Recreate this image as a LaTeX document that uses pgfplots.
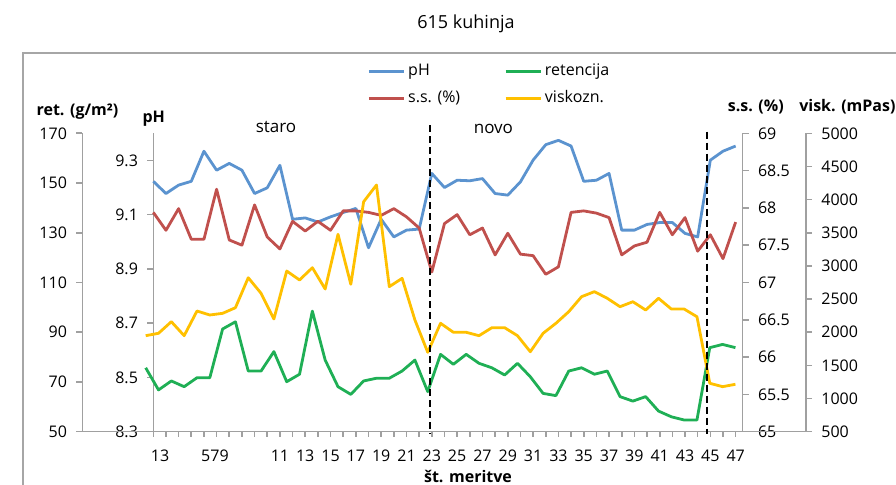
\documentclass[border=0pt]{standalone}
\usepackage{pgfplots}
\pgfplotsset{compat=1.18}
\usepackage{fontspec}
\setmainfont{Open Sans}
\definecolor{cph}{HTML}{5B93CF}
\definecolor{css}{HTML}{C0504D}
\definecolor{cret}{HTML}{1FAF55}
\definecolor{cvis}{HTML}{FFC000}
\definecolor{axgray}{HTML}{A0A0A0}
\definecolor{framegray}{HTML}{A6A6A6}
\newcommand{\tf}{\fontsize{8}{9.6}\selectfont}
\begin{document}
\begin{tikzpicture}
\path[use as bounding box] (0,0) rectangle (448pt,-242.5pt);
\draw[framegray, line width=0.8pt] (11.35pt,-243pt) -- (11.35pt,-26.5pt) -- (449pt,-26.5pt);
\pgfplotsset{
  common/.style={scale only axis, height=149.2pt, anchor=south west,
    axis line style={draw=axgray, line width=0.8pt, -},
    tick style={draw=axgray, line width=0.8pt},
    tick align=outside, major tick length=3pt, minor tick length=2.5pt,
    ticklabel style={font=\tf, text=black},
    yticklabel style={inner sep=0pt},
    yticklabel shift=4.5pt,
    every axis plot/.append style={line width=1.4pt, line join=round, mark=none},
    clip=false},
}
% ---- pH axis ----
\begin{axis}[common, at={(76.65pt,-215.85pt)}, width=294.7pt,
  xmin=1, xmax=47.556, ymin=8.3, ymax=9.4,
  axis x line*=bottom, axis y line*=left,
  xtick={1.53,5.87,11,13,15,17,19,21,23,25,27,29,31,33,35,37,39,41,43,45,47},
  xticklabels={13,579,11,13,15,17,19,21,23,25,27,29,31,33,35,37,39,41,43,45,47},
  major x tick style={draw=none},
  minor xtick={1,...,47},
  xticklabel style={anchor=north, inner sep=0pt, text height=5.8pt, text depth=0pt},
  xticklabel shift=5.8pt,
  ytick={8.3,8.5,8.7,8.9,9.1,9.3},
  yticklabels={8.3,8.5,8.7,8.9,9.1,9.3},
  legend columns=2,
  legend cell align=left,
  legend image code/.code={\draw[#1] (0pt,0pt) -- (17.5pt,0pt);},
  legend style={at={(0.3626,1.2356)}, anchor=north west, draw=none, fill=none,
    inner sep=0pt, font=\tf, row sep=5.7pt,
    nodes={inner sep=0pt, text height=6pt, text depth=1.8pt},
    /tikz/every odd column/.append style={column sep=1.5pt},
    /tikz/every even column/.append style={column sep=22pt}},
]
\addplot[cph] table {
1 9.223
2 9.178
3 9.209
4 9.223
5 9.334
6 9.264
7 9.289
8 9.264
9 9.178
10 9.199
11 9.282
12 9.083
13 9.088
14 9.073
15 9.092
16 9.108
17 9.123
18 8.978
19 9.083
20 9.018
21 9.043
22 9.047
23 9.252
24 9.200
25 9.227
26 9.225
27 9.233
28 9.178
29 9.172
30 9.221
31 9.301
32 9.358
33 9.374
34 9.353
35 9.223
36 9.227
37 9.252
38 9.043
39 9.043
40 9.064
41 9.071
42 9.071
43 9.031
44 9.018
45 9.301
46 9.334
47 9.353
};
\addlegendentry{pH}
\addlegendimage{cret, line width=1.4pt}
\addlegendentry{retencija}
\addlegendimage{css, line width=1.4pt}
\addlegendentry{s.s. (\%)}
\addlegendimage{cvis, line width=1.4pt}
\addlegendentry{viskozn.}
\end{axis}
% ---- s.s. axis ----
\begin{axis}[common, at={(76.65pt,-215.85pt)}, width=294.7pt,
  xmin=1, xmax=47.556, ymin=65, ymax=69,
  axis x line*=bottom, axis y line*=right, xtick=\empty,
  ytick={65,65.5,66,66.5,67,67.5,68,68.5,69},
  yticklabels={65,65.5,66,66.5,67,67.5,68,68.5,69},
  yticklabel style={anchor=west},
]
\addplot[css] table {
1 67.94
2 67.70
3 67.99
4 67.58
5 67.58
6 68.25
7 67.57
8 67.50
9 68.04
10 67.61
11 67.45
12 67.82
13 67.69
14 67.82
15 67.70
16 67.96
17 67.96
18 67.94
19 67.90
20 67.99
21 67.88
22 67.73
23 67.14
24 67.79
25 67.91
26 67.64
27 67.73
28 67.37
29 67.66
30 67.38
31 67.36
32 67.11
33 67.21
34 67.94
35 67.96
36 67.93
37 67.87
38 67.37
39 67.49
40 67.54
41 67.94
42 67.64
43 67.87
44 67.42
45 67.64
46 67.32
47 67.81
};
\end{axis}
% ---- ret. axis ----
\begin{axis}[common, at={(41.15pt,-215.85pt)}, width=330.2pt,
  xmin=-3.9454, xmax=47.568, ymin=50, ymax=170,
  axis x line*=bottom, axis y line*=left, xtick=\empty,
  ytick={50,70,90,110,130,150,170},
  yticklabels={50,70,90,110,130,150,170},
]
\addplot[cret] table {
1 75.7
2 66.8
3 70.4
4 68.1
5 71.7
6 71.7
7 91.3
8 94.2
9 74.4
10 74.4
11 82.2
12 70.1
13 73.1
14 98.5
15 78.8
16 68.1
17 65.0
18 70.4
19 71.5
20 71.5
21 74.4
22 78.8
23 66.1
24 81.1
25 77.1
26 81.1
27 77.5
28 75.7
29 72.8
30 77.5
31 72.1
32 65.4
33 64.5
34 74.4
35 75.7
36 73.1
37 74.4
38 64.1
39 62.3
40 64.1
41 58.3
42 56.0
43 54.7
44 54.7
45 83.8
46 85.1
47 83.8
};
\end{axis}
% ---- visk. axis ----
\begin{axis}[common, at={(41.15pt,-215.85pt)}, width=361.85pt,
  xmin=-3.9454, xmax=52.505, ymin=500, ymax=5000,
  axis x line*=bottom, axis y line*=right, xtick=\empty,
  ytick={500,1000,1500,2000,2500,3000,3500,4000,4500,5000},
  yticklabels={500,1000,1500,2000,2500,3000,3500,4000,4500,5000},
  yticklabel style={anchor=west},
]
\addplot[cvis] table {
1 1948
2 1984
3 2159
4 1948
5 2320
6 2260
7 2285
8 2370
9 2822
10 2587
11 2200
12 2923
13 2788
14 2973
15 2652
16 3477
17 2723
18 3968
19 4220
20 2687
21 2813
22 2184
23 1697
24 2135
25 1999
26 1999
27 1948
28 2068
29 2068
30 1948
31 1706
32 1984
33 2135
34 2310
35 2536
36 2612
37 2512
38 2385
39 2460
40 2335
41 2512
42 2350
43 2350
44 2234
45 1230
46 1179
47 1215
};
\draw[black, line width=1pt, dash pattern=on 3.5pt off 2pt] (axis cs:23.176,5125) -- (axis cs:23.176,465);
\draw[black, line width=1pt, dash pattern=on 3.5pt off 2pt] (axis cs:44.806,5024) -- (axis cs:44.806,465);
\end{axis}
% ---- texts ----
\node[font=\fontsize{9}{10.8}\selectfont] at (233pt,-12pt) {615 kuhinja};
\node[font=\tf\bfseries] at (38.75pt,-55.85pt) {ret. (g/m²)};
\node[font=\tf\bfseries] at (76.9pt,-59.2pt) {pH};
\node[font=\tf\bfseries] at (377.9pt,-53.35pt) {s.s. (\%)};
\node[font=\tf\bfseries] at (423.7pt,-53.35pt) {visk. (mPas)};
\node[font=\fontsize{8.5}{10}\selectfont] at (138pt,-63.35pt) {staro};
\node[font=\fontsize{8.5}{10}\selectfont] at (246.7pt,-64.65pt) {novo};
\node[font=\tf\bfseries] at (234pt,-238pt) {št. meritve};
\end{tikzpicture}
\end{document}
